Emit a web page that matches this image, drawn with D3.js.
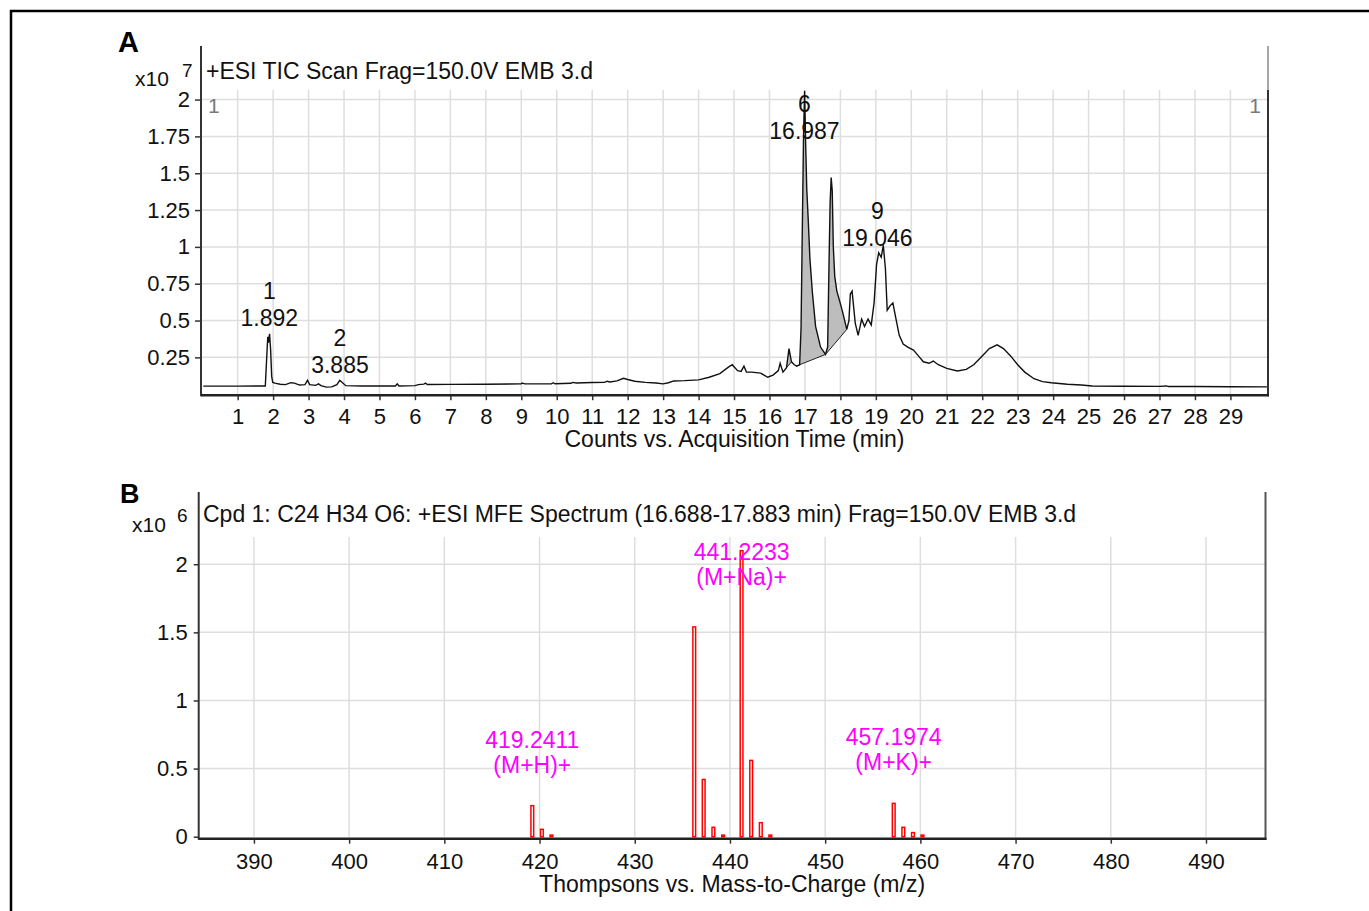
<!DOCTYPE html>
<html>
<head>
<meta charset="utf-8">
<script src="https://cdn.jsdelivr.net/npm/d3@7"></script>
<style>
  body { margin: 0; background: #fff; }
  svg text { font-family: "Liberation Sans", Arial, sans-serif; }
</style>
</head>
<body>
<svg id="chart" width="1369" height="911"></svg>
<script>
// Panel A - TIC chromatogram, counts in units of 1e7
const ticTime = [0.03, 1.00, 1.78, 1.83, 1.85, 1.87, 1.90, 1.93, 1.96, 1.99, 2.05, 2.20, 2.35, 2.50, 2.60,
  2.75, 2.90, 2.97, 3.03, 3.20, 3.28, 3.35, 3.50, 3.65, 3.80, 3.88, 3.95, 4.05, 4.50, 5.00, 5.45, 5.50, 5.55,
  6.00, 6.10, 6.25, 6.30, 6.35, 7.00, 8.00, 9.00, 9.02, 9.10, 9.85, 9.90, 9.95, 10.40, 10.45, 10.55, 11.00,
  11.35, 11.42, 11.50, 11.70, 11.88, 12.00, 12.20, 12.50, 12.80, 13.00, 13.15, 13.30, 13.60, 14.00, 14.30,
  14.60, 14.85, 14.95, 15.10, 15.20, 15.28, 15.35, 15.50, 15.75, 15.95, 16.10, 16.25, 16.30, 16.38, 16.48,
  16.55, 16.62, 16.70, 16.77, 16.85, 16.89, 16.93, 16.96, 16.99, 17.02, 17.05, 17.09, 17.14, 17.21, 17.30,
  17.44, 17.58, 17.64, 17.68, 17.71, 17.74, 17.77, 17.80, 17.84, 17.90, 17.97, 18.07, 18.18, 18.24, 18.28,
  18.33, 18.37, 18.42, 18.50, 18.60, 18.68, 18.78, 18.87, 18.95, 19.02, 19.08, 19.15, 19.21, 19.27, 19.32,
  19.40, 19.48, 19.56, 19.66, 19.77, 19.90, 20.06, 20.20, 20.34, 20.50, 20.62, 20.76, 21.00, 21.30, 21.55,
  21.76, 22.00, 22.20, 22.42, 22.60, 22.80, 23.00, 23.20, 23.46, 23.70, 23.95, 24.40, 24.80, 25.10, 26.00,
  27.00, 27.20, 27.25, 28.00, 29.00, 30.03];
const ticCounts = [0.055, 0.055, 0.056, 0.30, 0.39, 0.35, 0.41, 0.30, 0.12, 0.08, 0.075, 0.068, 0.065, 0.078, 0.075,
  0.062, 0.065, 0.095, 0.065, 0.060, 0.070, 0.058, 0.048, 0.050, 0.065, 0.095, 0.080, 0.058, 0.056, 0.056, 0.056, 0.070, 0.056,
  0.058, 0.065, 0.068, 0.075, 0.066, 0.067, 0.068, 0.070, 0.076, 0.070, 0.070, 0.078, 0.071, 0.074, 0.080, 0.076, 0.079,
  0.080, 0.088, 0.083, 0.090, 0.108, 0.100, 0.088, 0.080, 0.076, 0.070, 0.078, 0.090, 0.092, 0.097, 0.115,
  0.140, 0.185, 0.200, 0.160, 0.155, 0.190, 0.150, 0.150, 0.143, 0.115, 0.130, 0.160, 0.210, 0.150, 0.180,
  0.310, 0.220, 0.200, 0.190, 0.200, 0.450, 1.200, 1.750, 2.060, 1.700, 1.400, 1.200, 0.920, 0.690, 0.460,
  0.320, 0.270, 0.320, 0.900, 1.300, 1.470, 1.380, 1.000, 0.800, 0.700, 0.640, 0.550, 0.440, 0.500, 0.680,
  0.700, 0.600, 0.480, 0.400, 0.510, 0.460, 0.510, 0.470, 0.620, 0.880, 0.960, 0.930, 1.010, 0.850, 0.570,
  0.600, 0.620, 0.520, 0.400, 0.340, 0.320, 0.300, 0.260, 0.220, 0.210, 0.225, 0.200, 0.175, 0.158, 0.168,
  0.200, 0.260, 0.310, 0.335, 0.310, 0.260, 0.200, 0.150, 0.105, 0.085, 0.078, 0.068, 0.062, 0.056, 0.054,
  0.053, 0.056, 0.052, 0.052, 0.051, 0.050];
const ticTicksX = [1, 2, 3, 4, 5, 6, 7, 8, 9, 10, 11, 12, 13, 14, 15, 16, 17, 18, 19, 20, 21, 22, 23, 24, 25, 26, 27, 28, 29];
const ticTicksY = [0.25, 0.5, 0.75, 1, 1.25, 1.5, 1.75, 2];
const peakNo = ['1', '2', '6', '9'];
const peakRT = [1.892, 3.885, 16.987, 19.046];
const peakLabelAt = [0.46, 0.145, 1.73, 1.005];
const shadeFrom = [16.48, 16.85, 17.58];
const shadeTo = [16.62, 17.58, 18.18];

// Panel B - MFE spectrum, counts in units of 1e6
const msMz = [419.24, 420.25, 421.25, 436.25, 437.24, 438.26, 439.28, 441.22, 442.23, 443.24, 444.24, 457.20, 458.21, 459.22, 460.22];
const msInt = [0.228, 0.054, 0.012, 1.54, 0.42, 0.069, 0.012, 2.10, 0.56, 0.103, 0.012, 0.245, 0.069, 0.030, 0.012];
const msTicksX = [390, 400, 410, 420, 430, 440, 450, 460, 470, 480, 490];
const msTicksY = [0, 0.5, 1, 1.5, 2];
const ionMz = [419.2411, 441.2233, 457.1974];
const ionName = ['(M+H)+', '(M+Na)+', '(M+K)+'];
const ionLabelAt = [0.468, 1.85, 0.49];

const svg = d3.select('#chart');
const FS = 23;      // titles, labels
const TICK_FS = 22; // tick labels

// outer frame
svg.append('path').attr('d', 'M11,920 L11,11 L1380,11')
  .attr('fill', 'none').attr('stroke', '#000').attr('stroke-width', 2.5);

// ---------------- Panel A ----------------
const a = { left: 201, right: 1268, frameTop: 46, gridTop: 90, bottom: 394.2 };
const xA = d3.scaleLinear().domain([0, 30.06]).range([202.2, a.right]);
const yA = d3.scaleLinear().domain([0, 2.065]).range([a.bottom, a.gridTop]);

const gA = svg.append('g');
gA.append('g').selectAll('line').data(ticTicksX).join('line')
  .attr('x1', d => xA(d)).attr('x2', d => xA(d))
  .attr('y1', a.gridTop).attr('y2', a.bottom)
  .attr('stroke', '#dedede').attr('stroke-width', 1.5);
gA.append('g').selectAll('line').data(ticTicksY).join('line')
  .attr('x1', a.left).attr('x2', a.right)
  .attr('y1', d => yA(d)).attr('y2', d => yA(d))
  .attr('stroke', '#dedede').attr('stroke-width', 1.5);

// shaded integrated peaks
const ticPts = ticTime.map((t, i) => ({ t, v: ticCounts[i] }));
shadeFrom.forEach((t0, i) => {
  const t1 = shadeTo[i];
  const v0 = ticPts.find(p => p.t === t0).v;
  const v1 = ticPts.find(p => p.t === t1).v;
  const base = t => v0 + (v1 - v0) * (t - t0) / (t1 - t0);
  const seg = ticPts.filter(p => p.t >= t0 && p.t <= t1);
  gA.append('path').datum(seg)
    .attr('d', d3.area().x(d => xA(d.t)).y0(d => yA(base(d.t))).y1(d => yA(d.v)))
    .attr('fill', '#bdbdbd');
  gA.append('line')
    .attr('x1', xA(t0)).attr('y1', yA(v0)).attr('x2', xA(t1)).attr('y2', yA(v1))
    .attr('stroke', '#222').attr('stroke-width', 1);
});

gA.append('path').datum(ticPts)
  .attr('d', d3.line().x(d => xA(d.t)).y(d => yA(d.v)))
  .attr('fill', 'none').attr('stroke', '#111').attr('stroke-width', 1.4);

// axes
const axAy = gA.append('g').attr('transform', `translate(${a.left},0)`)
  .call(d3.axisLeft(yA).tickValues(ticTicksY).tickSize(6).tickPadding(5).tickFormat(d => String(d)));
const axAx = gA.append('g').attr('transform', `translate(0,${a.bottom + 1})`)
  .call(d3.axisBottom(xA).tickValues(ticTicksX).tickSize(5).tickPadding(8));
[axAy, axAx].forEach(g => {
  g.select('.domain').remove();
  g.selectAll('text').attr('font-size', TICK_FS).attr('fill', '#111').style('font-family', '"Liberation Sans", Arial, sans-serif');
  g.selectAll('.tick line').attr('stroke', '#333').attr('stroke-width', 1.5);
});
gA.append('line').attr('x1', a.left).attr('x2', a.left).attr('y1', a.frameTop).attr('y2', a.bottom + 2)
  .attr('stroke', '#333').attr('stroke-width', 2);
gA.append('line').attr('x1', a.right).attr('x2', a.right).attr('y1', a.frameTop).attr('y2', a.gridTop)
  .attr('stroke', '#888').attr('stroke-width', 1.5);
gA.append('line').attr('x1', a.right).attr('x2', a.right).attr('y1', a.gridTop).attr('y2', a.bottom + 2)
  .attr('stroke', '#333').attr('stroke-width', 2);
gA.append('line').attr('x1', a.left).attr('x2', a.right + 1).attr('y1', a.bottom + 1).attr('y2', a.bottom + 1)
  .attr('stroke', '#222').attr('stroke-width', 2.5);

// texts
svg.append('text').attr('x', 118).attr('y', 52).attr('font-size', 29).attr('font-weight', 'bold').text('A');
svg.append('text').attr('x', 135).attr('y', 86).attr('font-size', 21).attr('fill', '#111').text('x10');
svg.append('text').attr('x', 182).attr('y', 77).attr('font-size', 19).attr('fill', '#111').text('7');
svg.append('text').attr('x', 206).attr('y', 79).attr('font-size', FS).attr('fill', '#111')
  .text('+ESI TIC Scan Frag=150.0V EMB 3.d');
svg.append('text').attr('x', 208).attr('y', 113).attr('font-size', 21).attr('fill', '#7a7a7a').text('1');
svg.append('text').attr('x', 1261).attr('y', 113).attr('font-size', 21).attr('fill', '#7a7a7a')
  .attr('text-anchor', 'end').text('1');
svg.append('text').attr('x', (a.left + a.right) / 2).attr('y', 447).attr('font-size', FS).attr('fill', '#111')
  .attr('text-anchor', 'middle').text('Counts vs. Acquisition Time (min)');

const pl = gA.append('g').attr('font-size', FS).attr('fill', '#111').attr('text-anchor', 'middle');
peakNo.forEach((n, i) => {
  const x = xA(peakRT[i]);
  const y = yA(peakLabelAt[i]);
  pl.append('text').attr('x', x).attr('y', y - 27).text(n);
  pl.append('text').attr('x', x).attr('y', y).text(peakRT[i].toFixed(3));
});

// ---------------- Panel B ----------------
const b = { left: 198.7, right: 1265.5, frameTop: 492, gridTop: 537, bottom: 836.7 };
const xB = d3.scaleLinear().domain([384.2, 496.25]).range([b.left, b.right]);
const yB = d3.scaleLinear().domain([0, 2.2]).range([b.bottom, b.gridTop]);

const gB = svg.append('g');
gB.append('g').selectAll('line').data(msTicksX).join('line')
  .attr('x1', d => xB(d)).attr('x2', d => xB(d))
  .attr('y1', b.gridTop).attr('y2', b.bottom)
  .attr('stroke', '#dedede').attr('stroke-width', 1.5);
gB.append('g').selectAll('line').data(msTicksY.filter(d => d > 0)).join('line')
  .attr('x1', b.left).attr('x2', b.right)
  .attr('y1', d => yB(d)).attr('y2', d => yB(d))
  .attr('stroke', '#dedede').attr('stroke-width', 1.5);

const barW = xB(384.2 + 0.29) - xB(384.2);
gB.append('g').selectAll('rect').data(msMz).join('rect')
  .attr('x', d => xB(d) - barW / 2)
  .attr('y', (d, i) => yB(msInt[i]))
  .attr('width', barW)
  .attr('height', (d, i) => yB(0) - yB(msInt[i]))
  .attr('fill', 'none').attr('stroke', '#ff0000').attr('stroke-width', 1.5);

const axBy = gB.append('g').attr('transform', `translate(${b.left},0)`)
  .call(d3.axisLeft(yB).tickValues(msTicksY).tickSize(5).tickPadding(6).tickFormat(d => String(d)));
const axBx = gB.append('g').attr('transform', `translate(0,${b.bottom + 2})`)
  .call(d3.axisBottom(xB).tickValues(msTicksX).tickSize(5).tickPadding(10));
[axBy, axBx].forEach(g => {
  g.select('.domain').remove();
  g.selectAll('text').attr('font-size', TICK_FS).attr('fill', '#111').style('font-family', '"Liberation Sans", Arial, sans-serif');
  g.selectAll('.tick line').attr('stroke', '#333').attr('stroke-width', 1.5);
});
gB.append('line').attr('x1', b.left).attr('x2', b.left).attr('y1', b.frameTop).attr('y2', b.bottom + 3)
  .attr('stroke', '#333').attr('stroke-width', 2);
gB.append('line').attr('x1', b.right).attr('x2', b.right).attr('y1', b.frameTop).attr('y2', b.bottom + 3)
  .attr('stroke', '#555').attr('stroke-width', 2);
gB.append('line').attr('x1', b.left).attr('x2', b.right + 1).attr('y1', b.bottom + 2).attr('y2', b.bottom + 2)
  .attr('stroke', '#222').attr('stroke-width', 2.5);

svg.append('text').attr('x', 120).attr('y', 503).attr('font-size', 27).attr('font-weight', 'bold').text('B');
svg.append('text').attr('x', 132).attr('y', 532).attr('font-size', 21).attr('fill', '#111').text('x10');
svg.append('text').attr('x', 177).attr('y', 522).attr('font-size', 19).attr('fill', '#111').text('6');
svg.append('text').attr('x', 203).attr('y', 522).attr('font-size', FS).attr('fill', '#111')
  .text('Cpd 1: C24 H34 O6: +ESI MFE Spectrum (16.688-17.883 min) Frag=150.0V EMB 3.d');
svg.append('text').attr('x', (b.left + b.right) / 2).attr('y', 892).attr('font-size', FS).attr('fill', '#111')
  .attr('text-anchor', 'middle').text('Thompsons vs. Mass-to-Charge (m/z)');

const il = gB.append('g').attr('font-size', FS).attr('fill', '#ff00ff').attr('text-anchor', 'middle');
ionMz.forEach((m, i) => {
  const x = xB(m);
  const y = yB(ionLabelAt[i]);
  il.append('text').attr('x', x).attr('y', y - 25).text(m.toFixed(4));
  il.append('text').attr('x', x).attr('y', y).text(ionName[i]);
});
</script>
</body>
</html>
